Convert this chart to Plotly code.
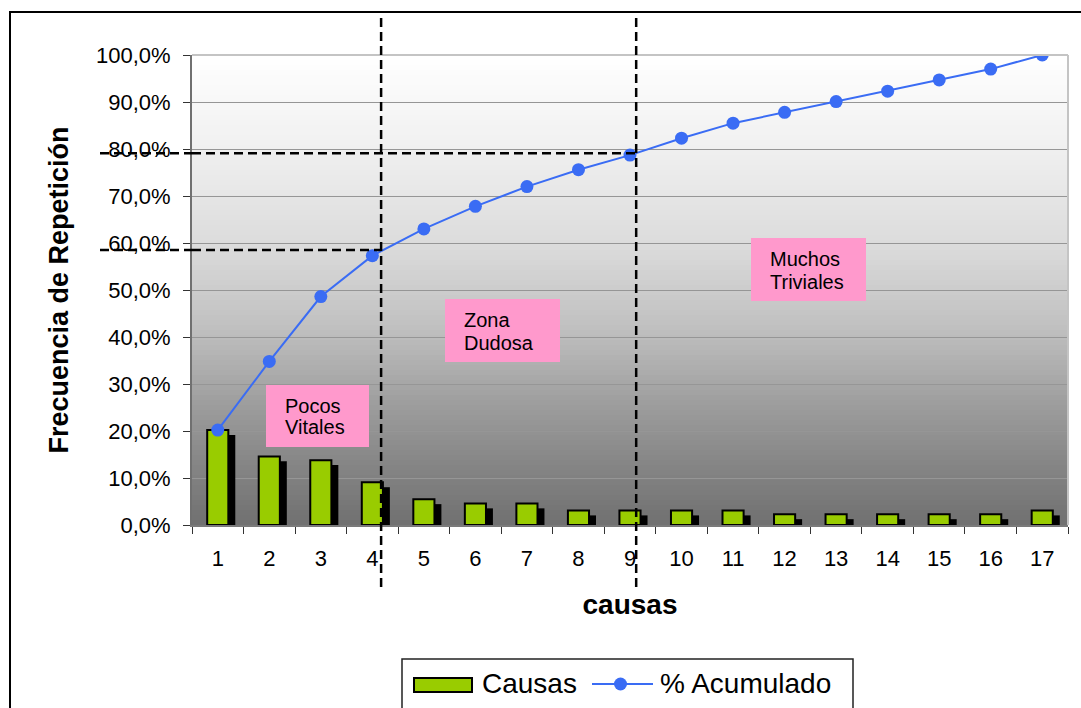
import plotly.graph_objects as go

# Pareto data: causes, relative frequency and cumulative share
causas = [str(i) for i in range(1, 18)]
frecuencia = [0.202, 0.146, 0.138, 0.091, 0.055, 0.046, 0.046, 0.031, 0.031,
              0.031, 0.031, 0.023, 0.023, 0.023, 0.023, 0.023, 0.031]
acumulado = [0.202, 0.348, 0.486, 0.573, 0.630, 0.678, 0.720, 0.756, 0.787,
             0.823, 0.855, 0.878, 0.901, 0.923, 0.947, 0.970, 1.000]

y_ticks = [0.0, 0.1, 0.2, 0.3, 0.4, 0.5, 0.6, 0.7, 0.8, 0.9, 1.0]
y_tick_text = ["0,0%", "10,0%", "20,0%", "30,0%", "40,0%", "50,0%",
               "60,0%", "70,0%", "80,0%", "90,0%", "100,0%"]

# Cut-off markers (category position, cumulative level)
corte_vitales = (3.17, 0.585)
corte_triviales = (8.12, 0.791)

zonas = [
    (["Pocos", "Vitales"], (266, 385, 369, 447), 283, [412, 433]),
    (["Zona", "Dudosa"], (445, 299, 560, 362), 462, [326, 349]),
    (["Muchos", "Triviales"], (751, 238, 866, 301), 768, [265, 288]),
]

FONT = "Liberation Sans, Arial, sans-serif"
GREEN = "#99cc00"
BLUE = "#3a6cf4"
PINK = "#ff99cc"

# Plot-area geometry in pixels
W, H = 1081, 708
PL, PT, PW, PH = 192, 55, 876, 470


def px(x):
    return (x - PL) / PW


def py(y):
    return (PT + PH - y) / PH


fig = go.Figure()

# Shadow behind each bar
fig.add_trace(go.Bar(
    x=causas, y=[v - 0.0106 for v in frecuencia],
    width=0.41, offset=-0.07,
    marker=dict(color="black", line=dict(width=0)),
    hoverinfo="skip", showlegend=False,
))
fig.add_trace(go.Bar(
    x=causas, y=frecuencia, name="Causas",
    width=0.41, offset=-0.205,
    marker=dict(color=GREEN, line=dict(color="black", width=2)),
    showlegend=False,
))
fig.add_trace(go.Scatter(
    x=causas, y=acumulado, name="% Acumulado",
    mode="lines+markers",
    line=dict(color=BLUE, width=2),
    marker=dict(color=BLUE, size=13),
    showlegend=False,
))

shapes = []

# Vertical gradient in the plotting area (white at top, grey at bottom)
stops = [(0.0, 112), (0.12, 132), (0.27, 160), (0.42, 192), (0.585, 218),
         (0.8, 240), (1.0, 255)]


def grey_at(f):
    for (f0, g0), (f1, g1) in zip(stops[:-1], stops[1:]):
        if f0 <= f <= f1:
            g = g0 + (g1 - g0) * (f - f0) / (f1 - f0)
            g = int(round(g))
            return f"rgb({g},{g},{g})"
    return "rgb(255,255,255)"


N = 94
for i in range(N):
    f0, f1 = i / N, (i + 1) / N
    shapes.append(dict(type="rect", xref="paper", yref="paper",
                       x0=0, x1=1, y0=f0, y1=f1 + 0.002,
                       fillcolor=grey_at((f0 + f1) / 2),
                       line=dict(width=0), layer="below"))

# Light frame on top and right of the plotting area
shapes.append(dict(type="line", xref="paper", yref="paper", x0=0, x1=1, y0=1, y1=1,
                   line=dict(color="#c4c4c4", width=2), layer="above"))
shapes.append(dict(type="line", xref="paper", yref="paper", x0=1, x1=1, y0=0, y1=1,
                   line=dict(color="#c4c4c4", width=2), layer="above"))

# Zone labels backgrounds
for lines, (x0, y0, x1, y1), tx, bases in zonas:
    shapes.append(dict(type="rect", xref="paper", yref="paper",
                       x0=px(x0), x1=px(x1), y0=py(y1), y1=py(y0),
                       fillcolor=PINK, line=dict(width=0), layer="above"))

# Dashed cut-off lines
dash = dict(color="black", width=2.5, dash="9px,5px")
for xc, yc in (corte_vitales, corte_triviales):
    shapes.append(dict(type="line", xref="x", yref="paper",
                       x0=xc, x1=xc, y0=py(587), y1=py(15),
                       line=dash, layer="above"))
    shapes.append(dict(type="line", xref="paper", yref="y",
                       x0=px(100), x1=0, y0=yc, y1=yc,
                       line=dash, layer="above"))
    shapes.append(dict(type="line", xref="x", yref="y",
                       x0=-0.5, x1=xc, y0=yc, y1=yc,
                       line=dash, layer="above"))

# Outer chart frame
shapes.append(dict(type="rect", xref="paper", yref="paper",
                   x0=px(10), x1=px(1100), y0=py(730), y1=py(12),
                   line=dict(color="black", width=2), fillcolor="rgba(0,0,0,0)",
                   layer="above"))

# Legend box and keys
shapes.append(dict(type="rect", xref="paper", yref="paper",
                   x0=px(402), x1=px(853), y0=py(730), y1=py(659),
                   line=dict(color="#222222", width=1.5), fillcolor="white",
                   layer="above"))
shapes.append(dict(type="rect", xref="paper", yref="paper",
                   x0=px(414), x1=px(472), y0=py(692), y1=py(678),
                   line=dict(color="black", width=2), fillcolor=GREEN,
                   layer="above"))
shapes.append(dict(type="line", xref="paper", yref="paper",
                   x0=px(592), x1=px(653), y0=py(684), y1=py(684),
                   line=dict(color=BLUE, width=2), layer="above"))
shapes.append(dict(type="circle", xref="paper", yref="paper",
                   x0=px(614), x1=px(627), y0=py(690.5), y1=py(677.5),
                   line=dict(width=0), fillcolor=BLUE, layer="above"))

annotations = []
for lines, box, tx, bases in zonas:
    for text, base in zip(lines, bases):
        annotations.append(dict(
            text=text, xref="paper", yref="paper",
            x=px(tx), y=py(base - 6), xanchor="left", yanchor="middle",
            showarrow=False, font=dict(family=FONT, size=20, color="black"),
        ))

annotations.append(dict(text="Causas", xref="paper", yref="paper",
                        x=px(480), y=py(683), xanchor="left", yanchor="middle",
                        showarrow=False,
                        font=dict(family=FONT, size=28, color="black")))
annotations.append(dict(text="% Acumulado", xref="paper", yref="paper",
                        x=px(658), y=py(683), xanchor="left", yanchor="middle",
                        showarrow=False,
                        font=dict(family=FONT, size=28, color="black")))

fig.update_layout(
    width=W, height=H,
    margin=dict(l=PL, r=W - PL - PW, t=PT, b=H - PT - PH, autoexpand=False),
    paper_bgcolor="white", plot_bgcolor="white",
    barmode="overlay",
    shapes=shapes, annotations=annotations,
    font=dict(family=FONT, color="black"),
    xaxis=dict(
        type="category", range=[-0.5, 16.5],
        tickson="boundaries", ticks="outside", ticklen=7, tickwidth=1,
        tickcolor="#333333",
        showline=True, linecolor="#7a7a7a", linewidth=1.5,
        showgrid=False, zeroline=False,
        tickfont=dict(family=FONT, size=22, color="black"),
        ticklabelstandoff=13,
        title=dict(text="causas", standoff=24,
                   font=dict(family=FONT, size=28, color="black", weight="bold")),
    ),
    yaxis=dict(
        range=[0, 1.0], tickmode="array", tickvals=y_ticks, ticktext=y_tick_text,
        ticks="outside", ticklen=7, tickwidth=1, tickcolor="#333333",
        showline=True, linecolor="#707070", linewidth=2,
        showgrid=True, gridcolor="#969696", gridwidth=1,
        zeroline=False,
        tickfont=dict(family=FONT, size=22, color="black"),
        ticklabelstandoff=8,
        title=dict(text="Frecuencia de Repetición", standoff=20,
                   font=dict(family=FONT, size=27, color="black", weight="bold")),
    ),
)

fig.write_html("out.html")
